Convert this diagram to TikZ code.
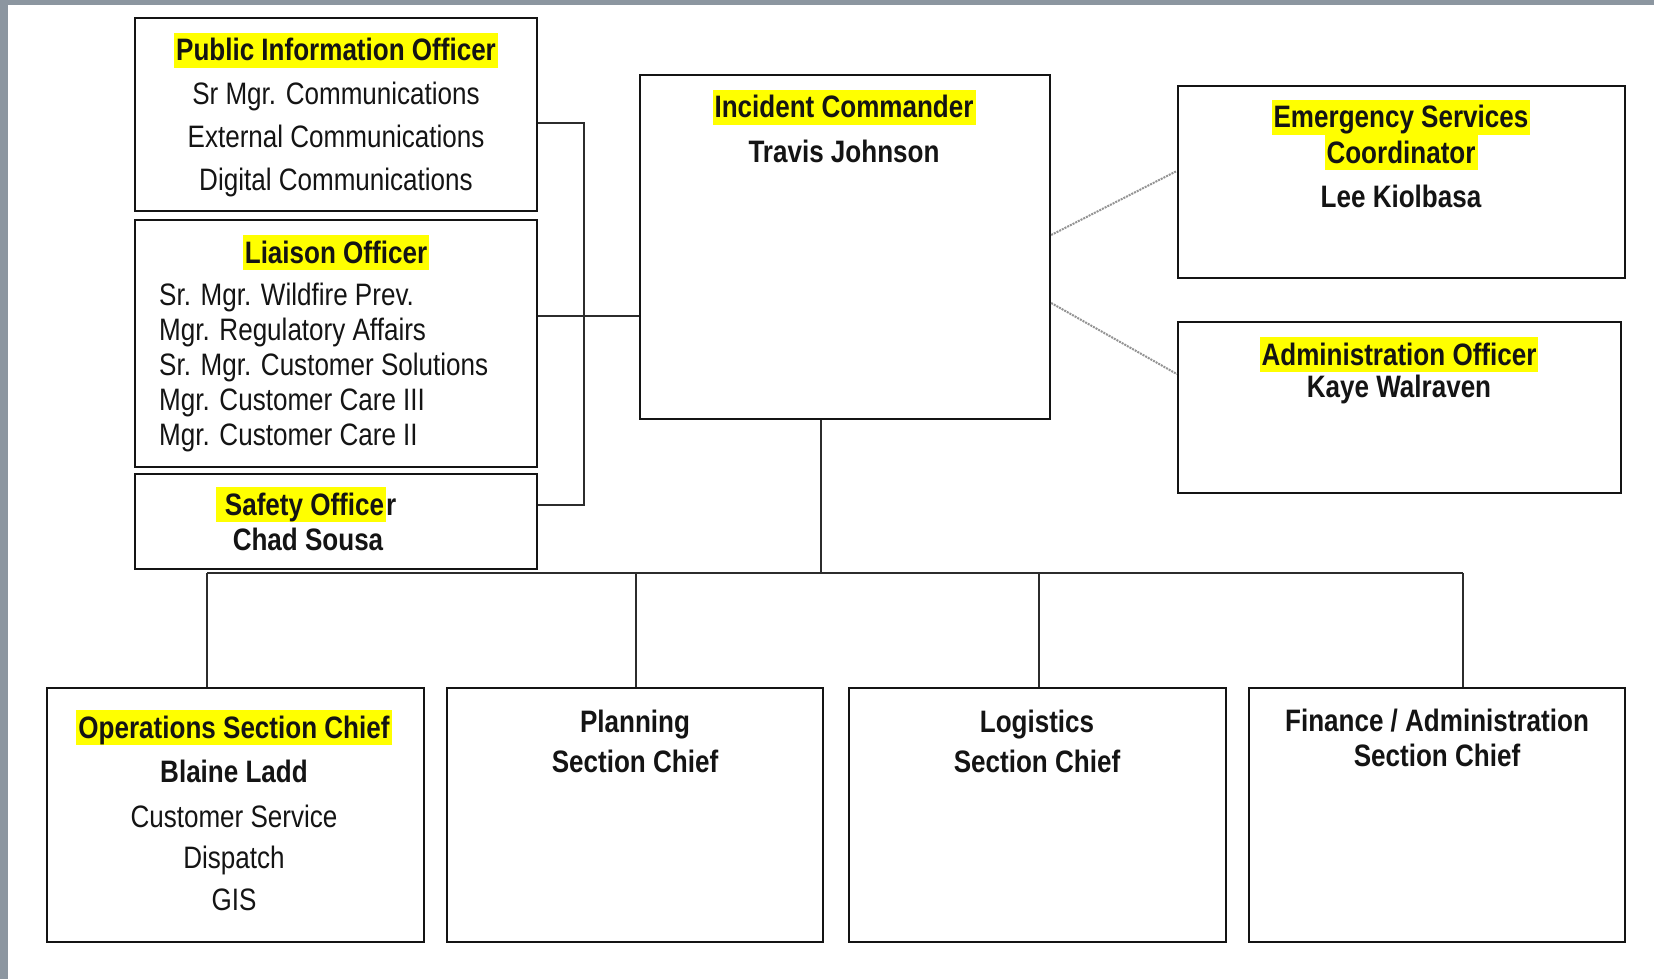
\documentclass[tikz,border=0pt]{standalone}
\usepackage{fontspec}
\setmainfont[FakeStretch=0.84]{Liberation Sans}
\definecolor{hlyellow}{RGB}{255,255,0}
\definecolor{framegray}{RGB}{140,150,160}
\definecolor{ink}{RGB}{20,20,20}
\newcommand\hlbox[1]{{\setlength{\fboxsep}{0pt}\colorbox{hlyellow}{\hspace{2pt}\rule[-0.21em]{0pt}{1.115em}#1\hspace{2pt}}}}
\begin{document}
\begin{tikzpicture}[x=1pt,y=-1pt,
  box/.style={draw=ink, line width=2.4pt, rectangle, inner sep=0pt},
  wire/.style={draw=ink!90, line width=2pt},
  dotwire/.style={draw=gray!85, line width=2pt, densely dotted},
  lbl/.style={inner sep=0pt, anchor=base, text=ink, font=\fontsize{31}{36}\selectfont},
  blbl/.style={inner sep=0pt, anchor=base, text=ink, font=\fontsize{31}{36}\selectfont\bfseries},
]
\useasboundingbox (0,0) rectangle (1654,979);
\fill[white] (0,0) rectangle (1654,979);
\fill[framegray] (0,0) rectangle (1654,5);
\fill[framegray] (0,0) rectangle (8,979);

% boxes
\node[box, minimum width=402pt, minimum height=193pt] (pio) at (336,114.5) {};
\node[box, minimum width=402pt, minimum height=247pt] (lia) at (336,343.5) {};
\node[box, minimum width=402pt, minimum height=95pt] (saf) at (336,521.5) {};
\node[box, minimum width=410pt, minimum height=344pt] (ic) at (845,247) {};
\node[box, minimum width=447pt, minimum height=192pt] (esc) at (1401.5,182) {};
\node[box, minimum width=443pt, minimum height=171pt] (adm) at (1399.5,407.5) {};
\node[box, minimum width=377pt, minimum height=254pt] (ops) at (235.5,815) {};
\node[box, minimum width=376pt, minimum height=254pt] (pln) at (635,815) {};
\node[box, minimum width=377pt, minimum height=254pt] (lgs) at (1037.5,815) {};
\node[box, minimum width=376pt, minimum height=254pt] (fin) at (1437,815) {};

% connectors
\coordinate (bt) at (584,123);
\coordinate (bb) at (584,505);
\coordinate (lj) at (584,316);
\draw[wire] (pio.east |- bt) -- (bt) -- (bb) -- (saf.east |- bb);
\draw[wire] (lia.east |- lj) -- (ic.west |- lj);
\coordinate (icb) at (821,573);
\draw[wire] (ic.south -| icb) -- (icb);
\coordinate (bl) at (207,573);
\coordinate (bp) at (636,573);
\coordinate (bg) at (1039,573);
\coordinate (br) at (1463,573);
\draw[wire] (bl) -- (br);
\draw[wire] (bl) -- (ops.north -| bl);
\draw[wire] (bp) -- (pln.north -| bp);
\draw[wire] (bg) -- (lgs.north -| bg);
\draw[wire] (br) -- (fin.north -| br);
\coordinate (e1) at (1053,235);
\coordinate (f1) at (1176,171);
\coordinate (e2) at (1053,303);
\coordinate (f2) at (1176,374);
\draw[dotwire] (ic.east |- e1) -- (esc.west |- f1);
\draw[dotwire] (ic.east |- e2) -- (adm.west |- f2);

% texts
\node[blbl] (pio1) at (336,61) {\hlbox{Public Information Officer}};
\node[lbl] (pio2) at (336,105) {Sr Mgr. Communications};
\node[lbl] (pio3) at (336,147) {External Communications};
\node[lbl] (pio4) at (336,190) {Digital Communications};

\node[blbl] (lia1) at (336,263) {\hlbox{Liaison Officer}};
\node[lbl, anchor=base west] (lia2) at (159,305) {Sr. Mgr. Wildfire Prev.};
\node[lbl, anchor=base west] (lia3) at (159,340) {Mgr. Regulatory Affairs};
\node[lbl, anchor=base west] (lia4) at (159,375) {Sr. Mgr. Customer Solutions};
\node[lbl, anchor=base west] (lia5) at (159,410) {Mgr. Customer Care III};
\node[lbl, anchor=base west] (lia6) at (159,445) {Mgr. Customer Care II};

\node[blbl] (saf1) at (306,515) {\hlbox{\ Safety Office}r};
\node[blbl] (saf2) at (308,550) {Chad Sousa};

\node[blbl] (ic1) at (844,118) {\hlbox{Incident Commander}};
\node[blbl] (ic2) at (844,162) {Travis Johnson};

\node[blbl] (esc1) at (1401,128) {\hlbox{Emergency Services}};
\node[blbl] (esc2) at (1401,163) {\hlbox{Coordinator}};
\node[blbl] (esc3) at (1401,207) {Lee Kiolbasa};

\node[blbl] (adm1) at (1399,365) {\hlbox{Administration Officer}};
\node[blbl] (adm2) at (1399,397) {Kaye Walraven};

\node[blbl] (ops1) at (234,738) {\hlbox{Operations Section Chief}};
\node[blbl] (ops2) at (234,782) {Blaine Ladd};
\node[lbl] (ops3) at (234,827) {Customer Service};
\node[lbl] (ops4) at (234,868) {Dispatch};
\node[lbl] (ops5) at (234,910) {GIS};

\node[blbl] (pln1) at (635,732) {Planning};
\node[blbl] (pln2) at (635,772) {Section Chief};

\node[blbl] (lgs1) at (1037,732) {Logistics};
\node[blbl] (lgs2) at (1037,772) {Section Chief};

\node[blbl] (fin1) at (1437,731) {Finance / Administration};
\node[blbl] (fin2) at (1437,766) {Section Chief};
\end{tikzpicture}
\end{document}
